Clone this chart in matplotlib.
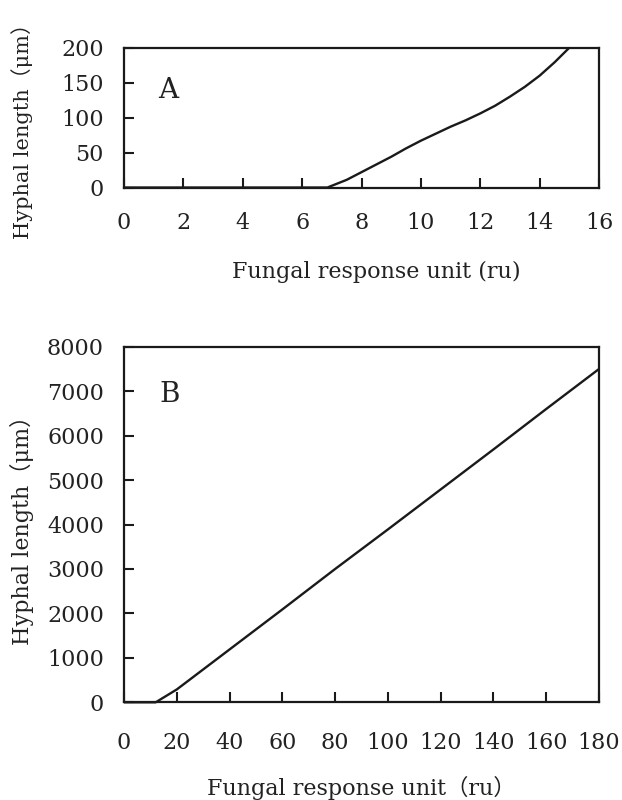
import matplotlib
matplotlib.use("Agg")
import matplotlib.pyplot as plt

# Panel A data
a_x = [0, 6.85, 7.5, 8, 8.5, 9, 9.5, 10, 10.5, 11, 11.5, 12, 12.5, 13, 13.5, 14, 14.5, 15]
a_y = [0, 0, 11, 22, 33, 44, 56, 67, 77, 87, 96, 106, 117, 130, 144, 160, 179, 200]
a_xticks = [0, 2, 4, 6, 8, 10, 12, 14, 16]
a_yticks = [0, 50, 100, 150, 200]

# Panel B data
b_x = [0, 12, 20, 40, 60, 80, 100, 120, 140, 160, 180]
b_y = [0, 0, 290, 1190, 2090, 3000, 3890, 4790, 5690, 6600, 7500]
b_xticks = [0, 20, 40, 60, 80, 100, 120, 140, 160, 180]
b_yticks = [0, 1000, 2000, 3000, 4000, 5000, 6000, 7000, 8000]

FAM = ['DejaVu Serif', 'Noto Sans CJK JP']
plt.rcParams['font.family'] = FAM
plt.rcParams['font.size'] = 16
TXT = '#222222'
LC = '#1a1a1a'

fig = plt.figure(figsize=(6.22, 8), dpi=100)
axA = fig.add_axes([0.1994, 0.7656, 0.7637, 0.1748])
axB = fig.add_axes([0.1994, 0.1221, 0.7637, 0.4445])


def style(ax, xpad, ypad):
    for s in ax.spines.values():
        s.set_linewidth(1.6)
        s.set_color(LC)
    ax.tick_params(direction='in', length=7, width=1.5, colors=LC,
                   top=False, right=False, labelsize=16, labelcolor=TXT)
    ax.tick_params(axis='x', pad=xpad)
    ax.tick_params(axis='y', pad=ypad)


axA.plot(a_x, a_y, color=LC, lw=1.7, clip_on=False, solid_capstyle='butt')
axA.set_xlim(0, 16)
axA.set_ylim(0, 200)
axA.set_xticks(a_xticks)
axA.set_yticks(a_yticks)
style(axA, 17.5, 14.5)
axA.set_xlabel('Fungal response unit (ru)', color=TXT, fontsize=16, va='center')
axA.xaxis.set_label_coords(0.532, -0.602)
axA.set_ylabel('Hyphal length（μm）', color=TXT, fontsize=15, va='center')
axA.yaxis.set_label_coords(-0.215, 0.44)
axA.text(0.094, 0.697, 'A', transform=axA.transAxes, fontsize=20,
         ha='center', va='center', color=TXT)

axB.plot(b_x, b_y, color=LC, lw=1.7, clip_on=False, solid_capstyle='butt')
axB.set_xlim(0, 180)
axB.set_ylim(0, 8000)
axB.set_xticks(b_xticks)
axB.set_yticks(b_yticks)
style(axB, 21.5, 14.5)
axB.set_xlabel('Fungal response unit（ru）', color=TXT, fontsize=16, va='center')
axB.xaxis.set_label_coords(0.5, -0.241)
axB.set_ylabel('Hyphal length（μm）', color=TXT, fontsize=16, va='center')
axB.yaxis.set_label_coords(-0.215, 0.5)
axB.text(0.097, 0.867, 'B', transform=axB.transAxes, fontsize=20,
         ha='center', va='center', color=TXT)

fig.savefig('out.png', dpi=100, facecolor='white')
